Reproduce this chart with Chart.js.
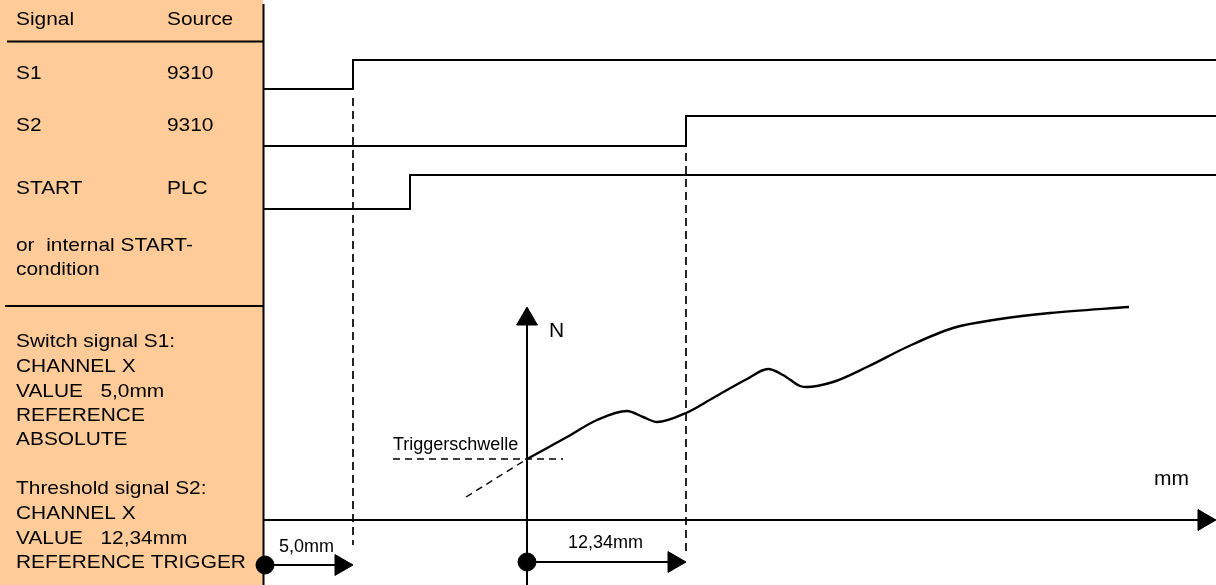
<!DOCTYPE html>
<html>
<head>
<meta charset="utf-8">
<script src="https://cdn.jsdelivr.net/npm/chart.js@4.4.1/dist/chart.umd.min.js"></script>
<style>
  html, body { margin: 0; padding: 0; background: #fff; }
  #wrap { width: 1216px; height: 585px; position: relative; }
</style>
</head>
<body>
<div id="wrap"><canvas id="c"></canvas></div>
<script>
// diagram units: x to the right, y downwards (same grid as the picture)
const signalNames   = ['S1', 'S2', 'START'];
const signalSources = ['9310', '9310', 'PLC'];
const signalLow     = [89, 146, 209];
const signalHigh    = [60, 116, 175];
const signalSwitchX = [353, 686, 410];

// force curve N over travel (after trigger)
const curveX = [527, 567, 597, 627, 643, 657, 686, 713, 747, 768, 783, 800, 806, 833, 867, 907, 953, 1000, 1050, 1129];
const curveY = [459, 437, 420, 411, 417, 422, 413, 398, 379, 369, 375, 386, 387, 382, 367, 347, 328, 319, 313, 307];

const triggerLevel = 459;
const axisY = 520;
const nAxisX = 527;
const s1Distance = ['5,0mm', 265, 353];     // label, from, to
const s2Distance = ['12,34mm', 527, 686];

const panelRows = [
  ['Signal', 'Source', 25],
  ['S1', '9310', 79],
  ['S2', '9310', 131],
  ['START', 'PLC', 194],
  ['or  internal START-', '', 251],
  ['condition', '', 275]
];
const panelNotes = [
  ['Switch signal S1:', 347],
  ['CHANNEL X', 372],
  ['VALUE   5,0mm', 397],
  ['REFERENCE', 421],
  ['ABSOLUTE', 445],
  ['Threshold signal S2:', 494],
  ['CHANNEL X', 519],
  ['VALUE   12,34mm', 544],
  ['REFERENCE TRIGGER', 568]
];

const black = '#000';
const datasets = [];

signalNames.forEach((name, i) => {
  datasets.push({
    label: name,
    data: [
      { x: 264, y: signalLow[i] },
      { x: signalSwitchX[i], y: signalLow[i] },
      { x: signalSwitchX[i], y: signalHigh[i] },
      { x: 1216, y: signalHigh[i] }
    ],
    borderColor: black, borderWidth: 2, pointRadius: 0
  });
});

// dashed markers down from S1 and S2 edges
datasets.push({
  data: [{ x: signalSwitchX[0], y: 98 }, { x: signalSwitchX[0], y: 545 }],
  borderColor: black, borderWidth: 1.7, borderDash: [8, 5], pointRadius: 0
});
datasets.push({
  data: [{ x: signalSwitchX[1], y: 153 }, { x: signalSwitchX[1], y: 556 }],
  borderColor: black, borderWidth: 1.7, borderDash: [8, 5], pointRadius: 0
});

// trigger threshold (dashed)
datasets.push({
  data: [{ x: 393, y: triggerLevel }, { x: 563, y: triggerLevel }],
  borderColor: black, borderWidth: 1.4, borderDash: [7, 5], pointRadius: 0
});
datasets.push({
  data: [{ x: 466, y: 497 }, { x: curveX[0], y: curveY[0] }],
  borderColor: black, borderWidth: 1.4, borderDash: [7, 5], pointRadius: 0
});

// the force curve
datasets.push({
  label: 'N',
  data: curveX.map((x, i) => ({ x, y: curveY[i] })),
  borderColor: black, borderWidth: 2.4, pointRadius: 0,
  cubicInterpolationMode: 'monotone'
});

// mm axis
datasets.push({
  data: [{ x: 264, y: axisY }, { x: 1204, y: axisY }],
  borderColor: black, borderWidth: 2,
  pointStyle: ['circle', 'triangle'], pointRadius: [0, 12], pointRotation: [0, 90],
  pointBackgroundColor: black, pointBorderColor: black, pointBorderWidth: 1
});

// N axis
datasets.push({
  data: [{ x: nAxisX, y: 585 }, { x: nAxisX, y: 319 }],
  borderColor: black, borderWidth: 2,
  pointStyle: ['circle', 'triangle'], pointRadius: [0, 12], pointRotation: [0, 0],
  pointBackgroundColor: black, pointBorderColor: black, pointBorderWidth: 1
});

// distance arrows
[[s1Distance, 565], [s2Distance, 562]].forEach(([d, y]) => {
  datasets.push({
    data: [{ x: d[1], y }, { x: d[2] - 12, y }],
    borderColor: black, borderWidth: 2,
    pointStyle: ['circle', 'triangle'], pointRadius: [9, 12], pointRotation: [0, 90],
    pointBackgroundColor: black, pointBorderColor: black, pointBorderWidth: 1
  });
});

datasets.forEach(d => { d.showLine = true; d.clip = false; d.tension = d.tension || 0; });

function stretchedText(ctx, text, x, y, sx) {
  ctx.save();
  ctx.translate(x, y);
  ctx.scale(sx, 1);
  ctx.fillText(text, 0, 0);
  ctx.restore();
}

const panelPlugin = {
  id: 'panel',
  beforeDatasetsDraw(chart) {
    const { ctx } = chart;
    const xs = chart.scales.x, ys = chart.scales.y;
    const px = v => xs.getPixelForValue(v), py = v => ys.getPixelForValue(v);
    ctx.save();
    ctx.fillStyle = '#FFCC99';
    ctx.fillRect(px(0), py(0), px(263) - px(0), py(585) - py(0));
    ctx.strokeStyle = black;
    ctx.lineWidth = 2;
    ctx.beginPath();
    ctx.moveTo(px(263.5), py(4)); ctx.lineTo(px(263.5), py(585));
    ctx.moveTo(px(7), py(41.5)); ctx.lineTo(px(263), py(41.5));
    ctx.moveTo(px(5), py(306)); ctx.lineTo(px(263), py(306));
    ctx.stroke();

    ctx.fillStyle = black;
    ctx.textBaseline = 'alphabetic';
    ctx.font = '19px "Liberation Sans", Arial, sans-serif';
    panelRows.forEach(([a, b, y]) => {
      stretchedText(ctx, a, px(16), py(y), 1.1);
      if (b) stretchedText(ctx, b, px(167), py(y), 1.1);
    });
    panelNotes.forEach(([t, y]) => stretchedText(ctx, t, px(16), py(y), 1.1));
    ctx.restore();
  },
  afterDatasetsDraw(chart) {
    const { ctx } = chart;
    const xs = chart.scales.x, ys = chart.scales.y;
    const px = v => xs.getPixelForValue(v), py = v => ys.getPixelForValue(v);
    ctx.save();
    ctx.fillStyle = black;
    ctx.font = '18px "Liberation Sans", Arial, sans-serif';
    ctx.fillText('Triggerschwelle', px(393), py(450));
    ctx.fillText(s1Distance[0], px(279), py(552));
    ctx.fillText(s2Distance[0], px(568), py(548));
    ctx.font = '21px "Liberation Sans", Arial, sans-serif';
    ctx.fillText('N', px(549), py(337));
    ctx.fillText('mm', px(1154), py(485));
    ctx.restore();
  }
};

new Chart(document.getElementById('c'), {
  type: 'scatter',
  data: { datasets },
  options: {
    responsive: true,
    maintainAspectRatio: false,
    animation: false,
    events: [],
    layout: { padding: 0, autoPadding: false },
    plugins: { legend: { display: false }, tooltip: { enabled: false } },
    scales: {
      x: { type: 'linear', min: 0, max: 1216, display: false },
      y: { type: 'linear', min: 0, max: 585, reverse: true, display: false }
    }
  },
  plugins: [panelPlugin]
});
</script>
</body>
</html>
